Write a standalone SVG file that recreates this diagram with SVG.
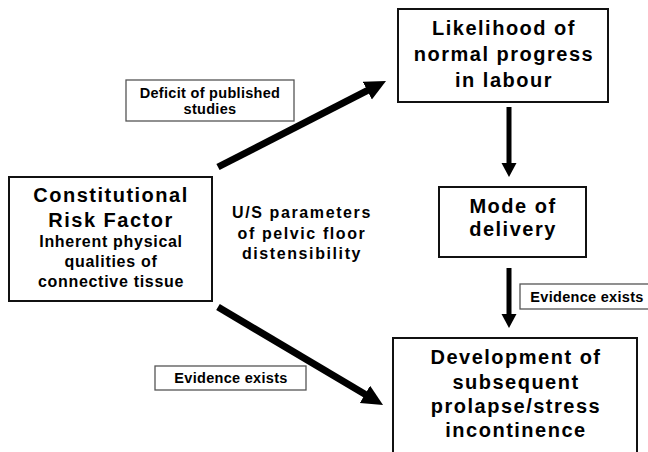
<svg xmlns="http://www.w3.org/2000/svg" width="648" height="452" viewBox="0 0 648 452">
  <defs>
    <style>
      text { font-family: "Liberation Sans", Arial, sans-serif; font-weight: bold; fill: #000; text-anchor: middle; }
      .big { font-size: 20px; letter-spacing: 1.5px; }
      .mid { font-size: 16px; letter-spacing: 0.7px; }
      .us { font-size: 16px; letter-spacing: 1.6px; }
      .lbl { font-size: 14.5px; letter-spacing: 0.3px; }
      .node { fill: #fff; stroke: #111; stroke-width: 2; }
      .labelbox { fill: #fff; stroke: #555; stroke-width: 1.3; }
      .conn { stroke: #000; fill: none; }
    </style>
    <marker id="headBig" markerUnits="userSpaceOnUse" markerWidth="22" markerHeight="21" refX="2" refY="10" orient="auto">
      <path d="M0,0 L21,10 L0,20 z" fill="#000"/>
    </marker>
    <marker id="headSmall" markerUnits="userSpaceOnUse" markerWidth="15" markerHeight="16" refX="2" refY="7.5" orient="auto">
      <path d="M0,0 L14,7.5 L0,15 z" fill="#000"/>
    </marker>
  </defs>
  <rect width="648" height="452" fill="#fff"/>

  <g id="connectors">
    <line class="conn" x1="218" y1="167" x2="369.1" y2="89.7" stroke-width="7" marker-end="url(#headBig)"/>
    <line class="conn" x1="218" y1="307" x2="366.7" y2="395.3" stroke-width="7" marker-end="url(#headBig)"/>
    <line class="conn" x1="509" y1="107" x2="509" y2="165" stroke-width="5" marker-end="url(#headSmall)"/>
    <line class="conn" x1="509" y1="268" x2="509" y2="316" stroke-width="5" marker-end="url(#headSmall)"/>
  </g>

  <g id="likelihood">
    <rect class="node" x="398" y="9" width="210" height="93"/>
    <text class="big" x="504" y="35">Likelihood of</text>
    <text class="big" x="504" y="61">normal progress</text>
    <text class="big" x="504" y="87">in labour</text>
  </g>

  <g id="mode">
    <rect class="node" x="439" y="187" width="147" height="70"/>
    <text class="big" x="513" y="213">Mode of</text>
    <text class="big" x="513" y="236">delivery</text>
  </g>

  <g id="development">
    <rect class="node" x="393" y="338" width="244" height="130"/>
    <text class="big" x="516" y="364">Development of</text>
    <text class="big" x="516" y="389">subsequent</text>
    <text class="big" x="516" y="413">prolapse/stress</text>
    <text class="big" x="516" y="437">incontinence</text>
  </g>

  <g id="constitutional">
    <rect class="node" x="9" y="177" width="203" height="124"/>
    <text class="big" x="111" y="202">Constitutional</text>
    <text class="big" x="111" y="227">Risk Factor</text>
    <text class="mid" x="111" y="247">Inherent physical</text>
    <text class="mid" x="111" y="267">qualities of</text>
    <text class="mid" x="111" y="287">connective tissue</text>
  </g>

  <g id="us-parameters">
    <text class="us" x="302" y="218">U/S parameters</text>
    <text class="us" x="302" y="239">of pelvic floor</text>
    <text class="us" x="302" y="259">distensibility</text>
  </g>

  <g id="label-deficit">
    <rect class="labelbox" x="126" y="80" width="168" height="41"/>
    <text class="lbl" x="210" y="98">Deficit of published</text>
    <text class="lbl" x="210" y="114">studies</text>
  </g>

  <g id="label-evidence-left">
    <rect class="labelbox" x="155" y="366" width="151" height="24"/>
    <text class="lbl" x="231" y="383">Evidence exists</text>
  </g>

  <g id="label-evidence-right">
    <rect class="labelbox" x="520" y="284" width="134" height="25"/>
    <text class="lbl" x="587" y="302">Evidence exists</text>
  </g>
</svg>
